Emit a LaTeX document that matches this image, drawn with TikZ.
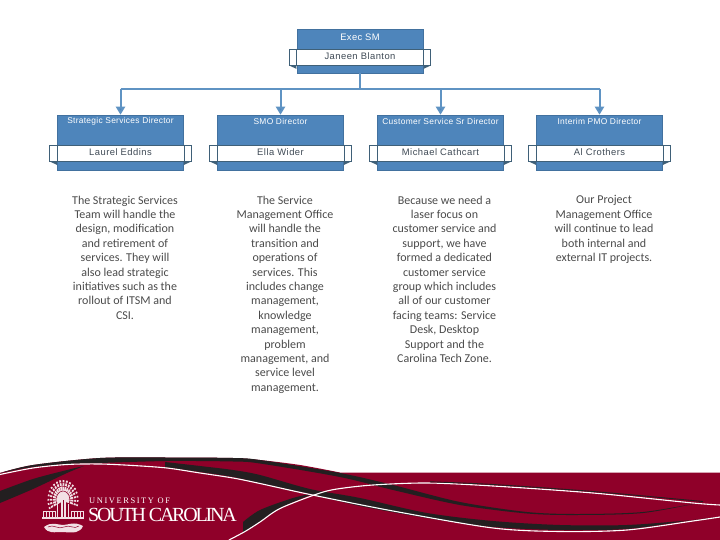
\documentclass[tikz,border=0pt]{standalone}
\usepackage{fontspec}
\setmainfont{Carlito}
\newfontfamily\hdfont[LetterSpace=3.5]{Liberation Sans}
\newfontfamily\nmfont[LetterSpace=5]{Liberation Sans}
\newfontfamily\logofont{Liberation Serif}
\usetikzlibrary{arrows.meta}
\definecolor{boxblue}{HTML}{4E85BB}
\definecolor{linkblue}{HTML}{5F93C3}
\definecolor{tipblue}{HTML}{4A86BE}
\definecolor{stripline}{HTML}{3F6078}
\definecolor{namegray}{HTML}{3F4A55}
\definecolor{bodygray}{HTML}{4A4A4A}
\definecolor{garnet}{HTML}{8F0029}
\definecolor{ink}{HTML}{231F20}
\tikzset{
  headbox/.style={draw=boxblue!85!black,line width=.5pt,fill=boxblue,minimum width=126pt,inner sep=0pt},
  headtext/.style={text=white,font=\hdfont\fontsize{8.4}{10}\selectfont,inner sep=0pt},
  strip/.style={draw=stripline,line width=.7pt,fill=white,minimum width=141.5pt,minimum height=16pt,inner sep=0pt},
  striptext/.style={text=namegray,inner sep=0pt,font=\nmfont\fontsize{9.4}{10}\selectfont},
  foldtip/.style={fill=stripline,draw=none},
  link/.style={draw=linkblue,line width=2pt},
  arrowlink/.style={link,-{Triangle[length=8pt,width=9pt,fill=tipblue]}},
  bodytext/.style={text=bodygray,align=center,anchor=north,inner sep=0pt,font=\fontsize{12}{14.4}\selectfont},
  blackband/.style={fill=ink,draw=none},
  whiteline/.style={draw=white,line width=1.1pt,line cap=round},
  logoink/.style={fill=white!88!garnet,draw=none},
  logoline/.style={draw=white!88!garnet},
}
\begin{document}
\begin{tikzpicture}[x=1pt,y=-1pt]
\useasboundingbox (0,0) rectangle (720,540);
% band
\fill[garnet] plot[smooth] coordinates {(0,473) (33,465) (100,458) (167,457.5) (233,458) (260,460) (300,465) (340,472.5)} -- (720,472.5) -- (720,540) -- (0,540) -- cycle;
% top thin black stroke
\fill[blackband] plot[smooth] coordinates {(0,473) (33,465) (100,458) (167,457.5) (233,458) (260,460) (340,473) (393,485) (460,502) (527,512) (577,514) (643,512) (703,502)}
  -- plot[smooth] coordinates {(703,502) (643,513) (577,515) (527,513.5) (460,505) (393,490) (340,477) (260,463.5) (233,461.5) (167,461) (100,463) (67,464) (33,467) (0,473)} -- cycle;
% broad black band
\fill[blackband] plot[smooth] coordinates {(165,462) (200,466) (233,470) (260,475) (310,489) (360,498) (427,513) (493,521) (560,525) (627,525) (693,520) (720,517)}
  -- plot[smooth] coordinates {(720,517) (693,520) (627,529) (560,530) (493,527) (427,518) (360,506) (310,494) (260,483) (233,477) (200,472) (165,467)} -- cycle;
% left wedge
\fill[blackband] plot[smooth] coordinates {(0,491) (33,479) (67,470) (84,466)}
  -- plot[smooth] coordinates {(84,466) (67,473) (33,489) (0,503)} -- cycle;
% lower arc wedge
\fill[blackband] plot[smooth] coordinates {(243,522) (260,510) (293,498) (315,493)}
  -- plot[smooth] coordinates {(315,493) (280,508) (260,521.5) (243,533)} -- cycle;
% white lines
\draw[whiteline] plot[smooth] coordinates {(0,474.5) (33,468) (67,464.5) (100,464) (133,465.5) (167,468) (200,473) (233,478) (260,483.5) (310,494.5) (393,511) (493,528) (560,531.5) (627,530) (693,521) (720,517)};
\draw[whiteline] plot[smooth] coordinates {(229,540) (245,531.5) (260,522) (280,508.5) (317,494) (337,489) (373,485) (427,483) (493,486) (593,493) (693,503) (720,505)};
\draw[ink,line width=.9pt] plot[smooth] coordinates {(430,481.8) (493,484.5) (593,491.5) (703,501.5)};
% logo palmetto
\foreach \a in {155,168,...,385}{\draw[logoline,line width=1.8pt] (63,500) -- ++({15.5*cos(\a)},{20*sin(\a)});}
\foreach \p/\q in {7/9,10.8/14,13.6/17.6}{\draw[garnet,line width=.55pt] (63,500) ++({\p*cos(150)},{\q*sin(150)}) arc[start angle=150,end angle=390,x radius=\p,y radius=\q];}
\fill[logoink] (60.5,498) rectangle (65.5,518);
\draw[garnet,line width=.5pt] (63,500) -- (63,518);
\fill[logoink] (42,517) rectangle (84,519);
\foreach \x in {43,46,49,52,55,71,74,77,80,83}{\draw[logoline,line width=.9pt] (\x,518) -- (\x,511);}
\draw[logoline,line width=.8pt] (43,511) -- (55,511) (71,511) -- (83,511);
\draw[logoline,line width=1.4pt] (57.5,518) -- (57.5,504) (68.5,518) -- (68.5,504);
\fill[logoink] (44,527) .. controls (52,521) and (58,525) .. (63,525)
  .. controls (68,525) and (74,521) .. (83,526)
  .. controls (80,533) and (74,533) .. (63,532) .. controls (54,532) and (48,534) .. (44,527) -- cycle;
\draw[garnet,line width=.5pt] (48,527) .. controls (55,524) and (58,530) .. (64,527) .. controls (70,524) and (74,530) .. (79,526);
% logo text
\node (univ) [anchor=base west,inner sep=0pt,text=white,font=\logofont\fontsize{8.4}{9}\selectfont] at (89,503) {\addfontfeature{LetterSpace=19}UNIVERSITY OF};
\node (usc) [anchor=base west,inner sep=0pt,text=white,font=\logofont\fontsize{20}{21}\selectfont] at (88,521) {\addfontfeature{LetterSpace=-11}SOUTH CAROLINA};
% org chart
\foreach \n/\x/\y/\h in {exec/360/51/44,bone/120.5/142.5/55,btwo/280.5/142.5/55,bthree/440.5/142.5/55,bfour/599.5/142.5/55}{
  \node[headbox,minimum height=\h pt] (\n) at (\x,\y) {};
}
\path (exec.south) -- ++(0,16) coordinate (jn);
\draw[link] (exec.south) -- (jn);
\draw[link] (bone.north |- jn) -- (bfour.north |- jn);
\draw[arrowlink] (bone.north |- jn) -- (bone.north);
\draw[arrowlink] (btwo.north |- jn) -- (btwo.north);
\draw[arrowlink] (bthree.north |- jn) -- (bthree.north);
\draw[arrowlink] (bfour.north |- jn) -- (bfour.north);
\foreach \n/\x/\y/\t in {sexec/360/57/Janeen Blanton,sone/120.5/153/Laurel Eddins,stwo/280.5/153/Ella Wider,sthree/440.5/153/Michael Cathcart,sfour/599.5/153/Al Crothers}{
  \node[strip] (\n) at (\x,\y) {};
  \node[striptext] (\n t) at (\x,\y-1.3) {\t};
  \fill[foldtip] (\n.south west) -- ++(7.5,0) -- ++(0,3.5) -- cycle;
  \fill[foldtip] (\n.south east) -- ++(-7.5,0) -- ++(0,3.5) -- cycle;
  \draw[stripline,line width=.6pt] (\n.north west) ++(7.5,0) -- ++(0,16);
  \draw[stripline,line width=.6pt] (\n.north east) ++(-7.5,0) -- ++(0,16);
}
\node[headtext,font=\hdfont\fontsize{9.4}{10}\selectfont] (texec) at (360,37) {Exec SM};
\node[headtext] (tone) at (120.5,121) {Strategic Services Director};
\node[headtext] (ttwo) at (280.5,121) {SMO Director};
\node[headtext] (tthree) at (440.5,121) {Customer Service Sr Director};
\node[headtext] (tfour) at (599.5,121) {Interim PMO Director};
\node[bodytext] (pone) at (125,195.5) {The Strategic Services\\Team will handle the\\design, modification\\and retirement of\\services. They will\\also lead strategic\\initiatives such as the\\rollout of ITSM and\\CSI.};
\node[bodytext] (ptwo) at (285,195.5) {The Service\\Management Office\\will handle the\\transition and\\operations of\\services. This\\includes change\\management,\\knowledge\\management,\\problem\\management, and\\service level\\management.};
\node[bodytext] (pthree) at (444.5,195.5) {Because we need a\\laser focus on\\customer service and\\support, we have\\formed a dedicated\\customer service\\group which includes\\all of our customer\\facing teams: Service\\Desk, Desktop\\Support and the\\Carolina Tech Zone.};
\node[bodytext] (pfour) at (604,195.5) {Our Project\\Management Office\\will continue to lead\\both internal and\\external IT projects.};
\end{tikzpicture}
\end{document}
